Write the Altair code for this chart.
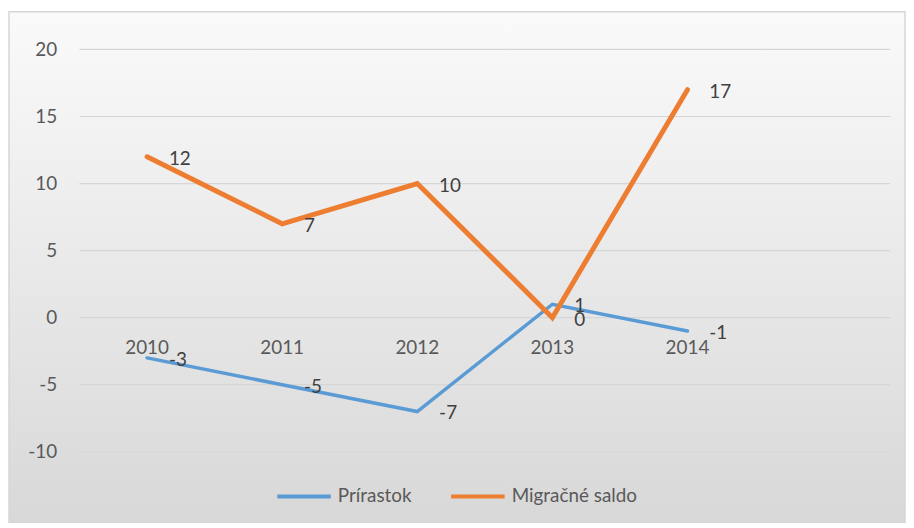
import altair as alt
import pandas as pd

years = [2010, 2011, 2012, 2013, 2014]
prirastok = [-3, -5, -7, 1, -1]
migracne = [12, 7, 10, 0, 17]
series_names = ["Prírastok", "Migračné saldo"]
series_colors = ["#5B9BD5", "#ED7D31"]
y_ticks = [-10, -5, 0, 5, 10, 15, 20]

rows = []
for name, vals in zip(series_names, [prirastok, migracne]):
    for yr, v in zip(years, vals):
        rows.append({"year": yr, "value": v, "series": name, "label": str(v)})
df = pd.DataFrame(rows)
years_df = pd.DataFrame({"year": years, "value": [0] * len(years), "label": [str(y) for y in years]})
grid_df = pd.DataFrame({"value": y_ticks})
bg_df = pd.DataFrame({"k": [0]})

FONT = "Lato"
W, H = 816, 405

xscale = alt.Scale(domain=[2009.5, 2015.5], nice=False, zero=False)
yscale = alt.Scale(domain=[-10, 20], nice=False, zero=False)
cscale = alt.Scale(domain=series_names, range=series_colors)
yaxis = alt.Axis(values=y_ticks, grid=False, domain=False, ticks=False, labelPadding=23,
                 labelExpr="'' + datum.value", zindex=2,
                 labelFont=FONT, labelFontSize=19, labelColor="#595959", title=None)

X = alt.X("year:Q", scale=xscale, axis=None)
Y = alt.Y("value:Q", scale=yscale, axis=yaxis)

bg = alt.Chart(bg_df).mark_rect(
    fill=alt.LinearGradient(
        gradient="linear",
        stops=[alt.GradientStop(color="#fafafa", offset=0),
               alt.GradientStop(color="#d8d8d8", offset=1)],
        x1=0, x2=0, y1=0, y2=1),
    stroke="#d6d6d6", strokeWidth=1.5,
).encode(x=alt.value(-71), x2=alt.value(831), y=alt.value(-38), y2=alt.value(476))

grid = alt.Chart(grid_df).mark_rule(color="#d6d6d6", strokeWidth=1.2).encode(y=Y)

legend = alt.Legend(orient="none", legendX=197, legendY=421, direction="horizontal",
                    title=None, symbolType="stroke", symbolStrokeWidth=4, symbolSize=2900,
                    labelFont=FONT, labelFontSize=19, labelColor="#595959",
                    labelOffset=5, columnPadding=31, zindex=2)

line_blue = alt.Chart(df).transform_filter(alt.datum.series == series_names[0]).mark_line(
    strokeWidth=3.5, strokeCap="round").encode(
    x=X, y=Y, color=alt.Color("series:N", scale=cscale, legend=legend),
)
line_orange = alt.Chart(df).transform_filter(alt.datum.series == series_names[1]).mark_line(
    strokeWidth=5, strokeCap="round").encode(
    x=X, y=Y, color=alt.Color("series:N", scale=cscale, legend=legend),
)

labels = alt.Chart(df).mark_text(align="left", baseline="middle", dx=22, dy=2,
                                 font=FONT, fontSize=19, color="#404040").encode(
    x=X, y=Y, text="label:N",
)

xlabels = alt.Chart(years_df).mark_text(align="center", baseline="middle", dy=31,
                                        font=FONT, fontSize=19, color="#595959").encode(
    x=X, y=Y, text="label:N",
)

chart = alt.layer(bg, grid, xlabels, line_blue, line_orange, labels).properties(
    width=W, height=H,
    padding={"left": 72, "top": 40, "right": 16, "bottom": 72},
    autosize="none",
    background="white",
).configure_view(stroke=None)

chart.save("out.html", embed_options={"renderer": "svg", "actions": False})
